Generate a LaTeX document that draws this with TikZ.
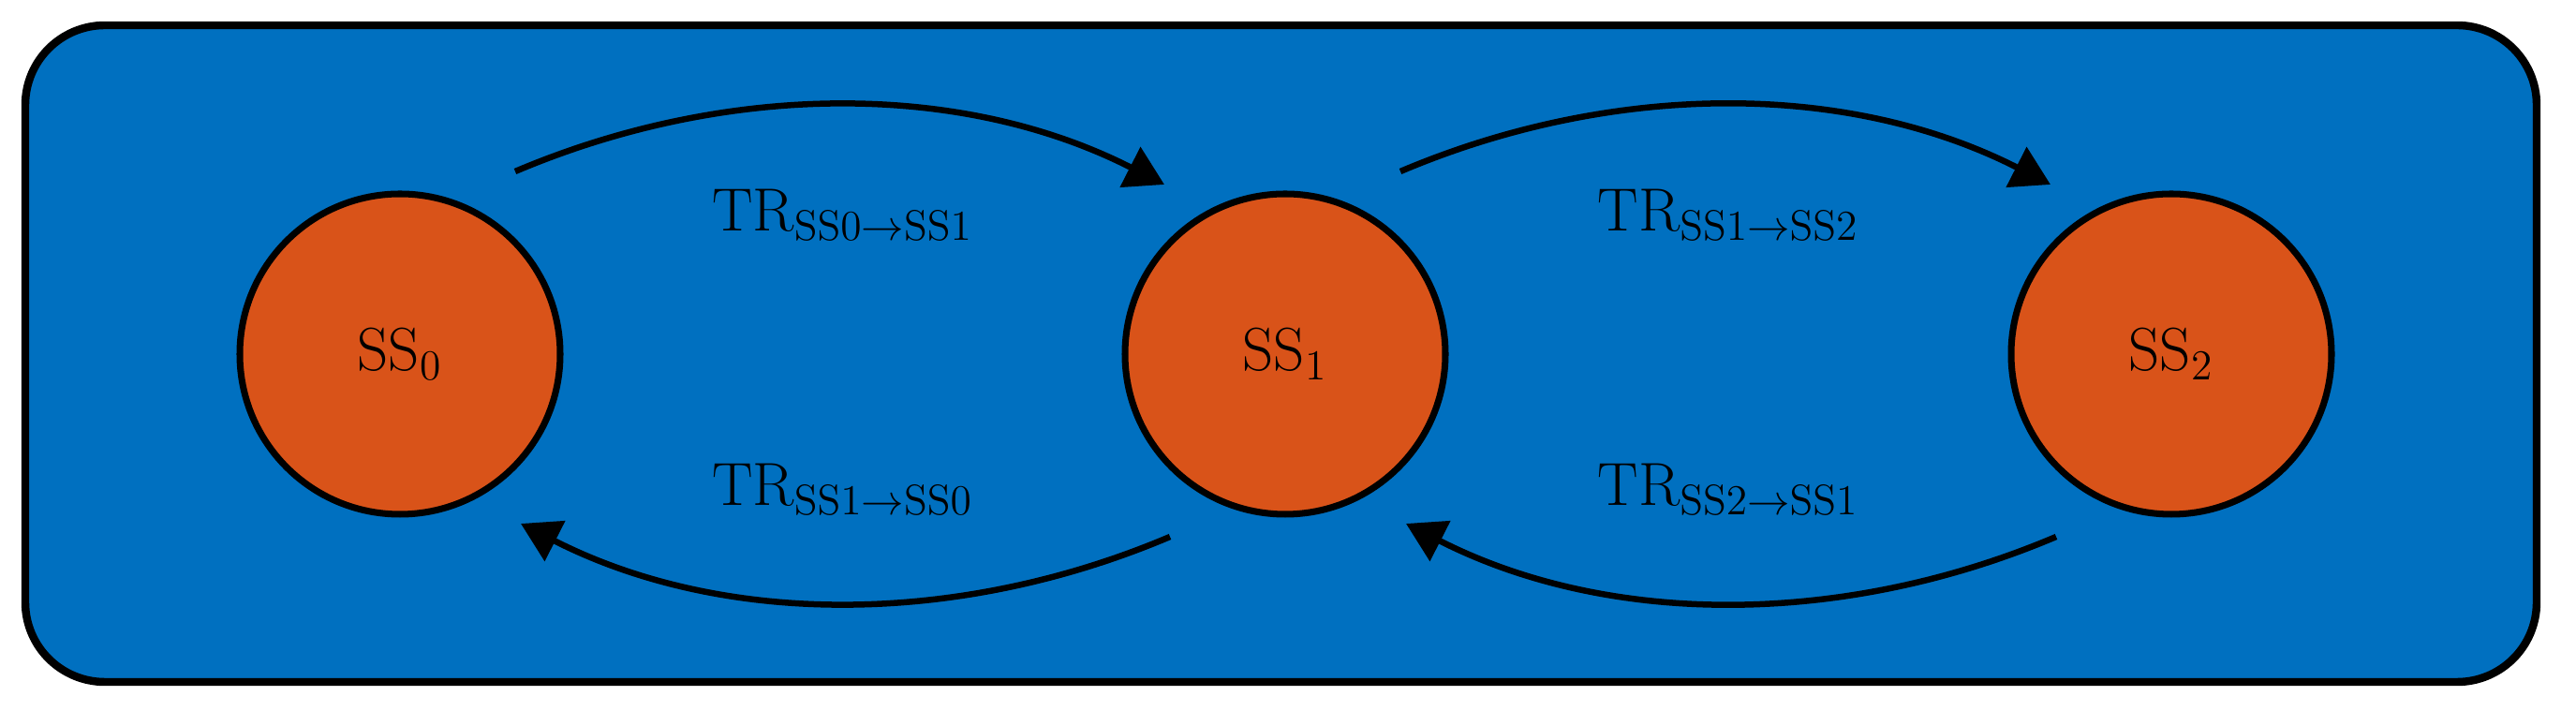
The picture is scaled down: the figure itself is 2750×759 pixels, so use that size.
\RequirePackage{fix-cm}
\documentclass[tikz,border=0pt]{standalone}
\usetikzlibrary{arrows.meta,calc}
\definecolor{boxblue}{RGB}{0,112,192}
\definecolor{stateorange}{RGB}{217,83,25}
\begin{document}
\begin{tikzpicture}[x=0.1mm,y=0.1mm,
  state/.style={circle, draw=black, line width=2pt, fill=stateorange,
    minimum size=34.2mm, inner sep=0pt, font=\fontsize{18.5}{22}\selectfont},
  lbl/.style={anchor=base, inner sep=0pt, font=\fontsize{18.5}{22}\selectfont},
  trans/.style={line width=1.85pt, -{Triangle[length=4.1mm,width=4.7mm]}},
  frame/.style={draw=black, line width=2.4pt, fill=boxblue, rounded corners=8.5mm}]
\useasboundingbox (0,0) rectangle (2750,759);
\draw[frame] (27,31) rectangle (2708,732);
\node[state] (s0) at (427,381) {SS$_0$};
\node[state] (s1) at (1372,381) {SS$_1$};
\node[state] (s2) at (2318,381) {SS$_2$};
% upper transitions
\draw[trans] ($(s0)+(123,195)$) to[out=23,in=153,looseness=0.9] ($(s1)+(-129,181)$);
\draw[trans] ($(s1)+(123,195)$) to[out=23,in=153,looseness=0.9] ($(s2)+(-129,181)$);
% lower transitions
\draw[trans] ($(s1)+(-123,-195)$) to[out=203,in=-27,looseness=0.9] ($(s0)+(129,-181)$);
\draw[trans] ($(s2)+(-123,-195)$) to[out=203,in=-27,looseness=0.9] ($(s1)+(129,-181)$);
% labels
\node[lbl] (l01) at ($(s0)!0.5!(s1)+(0,131)$) {TR$_{\mathrm{SS0}\rightarrow\mathrm{SS1}}$};
\node[lbl] (l10) at ($(s0)!0.5!(s1)+(0,-162)$) {TR$_{\mathrm{SS1}\rightarrow\mathrm{SS0}}$};
\node[lbl] (l12) at ($(s1)!0.5!(s2)+(0,131)$) {TR$_{\mathrm{SS1}\rightarrow\mathrm{SS2}}$};
\node[lbl] (l21) at ($(s1)!0.5!(s2)+(0,-162)$) {TR$_{\mathrm{SS2}\rightarrow\mathrm{SS1}}$};
\end{tikzpicture}
\end{document}
